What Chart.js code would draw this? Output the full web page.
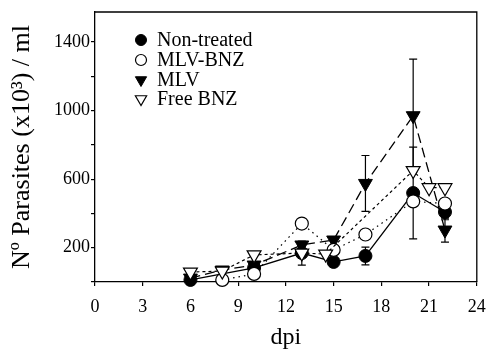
<!DOCTYPE html>
<html><head><meta charset="utf-8">
<script src="https://cdn.jsdelivr.net/npm/chart.js@4.4.1/dist/chart.umd.min.js"></script>
<style>html,body{margin:0;padding:0;background:#fff}#wrap{width:486px;height:352px;position:relative}</style>
</head><body><div id="wrap"><canvas id="c"></canvas></div>
<script>
// ---- data ----
const seriesNames = ['Non-treated', 'MLV-BNZ', 'MLV', 'Free BNZ'];
const nonTreatedX   = [6, 10, 13, 15, 17, 20, 22];
const nonTreatedY   = [12, 82, 169, 117, 152, 519, 408];
const nonTreatedErr = [0, 0, 70, 0, 52, 268, 45];
const mlvBnzX = [8, 10, 13, 15, 17, 20, 22];
const mlvBnzY = [12, 47, 341, 187, 277, 470, 458];
const mlvX   = [6, 8, 10, 13, 15, 17, 20, 22];
const mlvY   = [23, 70, 99, 216, 245, 575, 970, 303];
const mlvErr = [0, 0, 0, 0, 0, 163, 330, 70];
const freeBnzX = [6, 8, 10, 13, 14.5, 20, 21, 22];
const freeBnzY = [58, 64, 158, 169, 163, 650, 550, 550];
const xTickValues = [0, 3, 6, 9, 12, 15, 18, 21, 24];
const yTickValues = [0, 200, 400, 600, 800, 1000, 1200, 1400];
const yTickLabels = ['', '200', '', '600', '', '1000', '', '1400'];
const xTitle = 'dpi';
const yTitle = 'Nº Parasites (x10³) / ml';

const pts = (xs, ys) => xs.map((x, i) => ({x: x, y: ys[i]}));
const serif = '"Liberation Serif", "DejaVu Serif", serif';

const datasets = [
  {label: seriesNames[0], data: pts(nonTreatedX, nonTreatedY), err: nonTreatedErr,
   borderColor: '#000', borderWidth: 1.3, borderDash: [],
   pointStyle: 'circle', pointRadius: 6.5, pointBackgroundColor: '#000', pointBorderColor: '#000', pointBorderWidth: 1, pointRotation: 0, order: 2},
  {label: seriesNames[1], data: pts(mlvBnzX, mlvBnzY),
   borderColor: '#000', borderWidth: 1.2, borderDash: [1.5, 4],
   pointStyle: 'circle', pointRadius: 6.5, pointBackgroundColor: '#fff', pointBorderColor: '#000', pointBorderWidth: 1.2, pointRotation: 0, order: 1},
  {label: seriesNames[2], data: pts(mlvX, mlvY), err: mlvErr,
   borderColor: '#000', borderWidth: 1.3, borderDash: [10, 5],
   pointStyle: 'triangle', pointRadius: 8, pointBackgroundColor: '#000', pointBorderColor: '#000', pointBorderWidth: 1, pointRotation: 180, order: 3},
  {label: seriesNames[3], data: pts(freeBnzX, freeBnzY),
   borderColor: '#000', borderWidth: 1.2, borderDash: [3, 3],
   pointStyle: 'triangle', pointRadius: 8, pointBackgroundColor: '#fff', pointBorderColor: '#000', pointBorderWidth: 1.2, pointRotation: 180, order: 0}
];
datasets.forEach(d => { d.showLine = true; d.fill = false; d.tension = 0; d.clip = false; });

const errorBars = {
  id: 'errorBars',
  beforeDatasetsDraw(chart) {
    const {ctx, scales: {x, y}} = chart;
    ctx.save();
    ctx.strokeStyle = '#000'; ctx.lineWidth = 1.2; ctx.setLineDash([]);
    chart.data.datasets.forEach(ds => {
      if (!ds.err) return;
      ds.data.forEach((p, i) => {
        const e = ds.err[i]; if (!e) return;
        const px = x.getPixelForValue(p.x);
        const top = y.getPixelForValue(p.y + e), bot = y.getPixelForValue(p.y - e);
        ctx.beginPath();
        ctx.moveTo(px, top); ctx.lineTo(px, bot);
        ctx.moveTo(px - 4, top); ctx.lineTo(px + 4, top);
        ctx.moveTo(px - 4, bot); ctx.lineTo(px + 4, bot);
        ctx.stroke();
      });
    });
    ctx.restore();
  }
};

function drawMarker(ctx, style, r, rot, x, y, fill, lw) {
  ctx.beginPath();
  if (style === 'circle') {
    ctx.arc(x, y, r, 0, Math.PI * 2);
  } else {
    let rad = rot * Math.PI / 180;
    for (let k = 0; k < 3; k++) {
      const fx = x + Math.sin(rad) * r, fy = y - Math.cos(rad) * r;
      if (k === 0) ctx.moveTo(fx, fy); else ctx.lineTo(fx, fy);
      rad += 2 * Math.PI / 3;
    }
    ctx.closePath();
  }
  ctx.fillStyle = fill; ctx.fill();
  ctx.lineWidth = lw; ctx.strokeStyle = '#000'; ctx.stroke();
}

const boxAndLegend = {
  id: 'boxAndLegend',
  afterDraw(chart) {
    const {ctx, chartArea: a} = chart;
    ctx.save();
    ctx.strokeStyle = '#000'; ctx.lineWidth = 1.3; ctx.setLineDash([]);
    ctx.beginPath();
    ctx.moveTo(a.left, a.top); ctx.lineTo(a.right, a.top); ctx.lineTo(a.right, a.bottom);
    ctx.stroke();
    // legend
    const rows = [40, 60, 80, 99];
    ctx.font = '20px ' + serif;
    ctx.textBaseline = 'middle'; ctx.textAlign = 'left';
    chart.data.datasets.forEach((ds, i) => {
      const yy = rows[i];
      const r = ds.pointStyle === 'circle' ? 5.5 : 6.5;
      drawMarker(ctx, ds.pointStyle, r, ds.pointRotation, 141, yy, ds.pointBackgroundColor, ds.pointBorderWidth);
      ctx.fillStyle = '#000';
      ctx.fillText(ds.label, 157, yy + 1);
    });
    ctx.restore();
  }
};

new Chart(document.getElementById('c'), {
  type: 'line',
  data: {datasets: datasets},
  options: {
    responsive: true, maintainAspectRatio: false, animation: false,
    layout: {padding: {top: 12, right: 8, left: 0, bottom: 0}},
    plugins: {legend: {display: false}, tooltip: {enabled: false}},
    scales: {
      x: {
        type: 'linear', min: 0, max: 24,
        afterBuildTicks: s => { s.ticks = xTickValues.map(v => ({value: v})); },
        afterFit: s => { s.height = 70; s.paddingLeft = 0; s.paddingRight = 0; },
        ticks: {color: '#000', font: {family: serif, size: 18}, padding: 10, maxRotation: 0, autoSkip: false,
                callback: v => String(v)},
        grid: {display: true, drawOnChartArea: false, drawTicks: true, tickLength: 4, color: '#000', lineWidth: 1.2},
        border: {display: true, color: '#000', width: 1.3},
        title: {display: true, text: xTitle, color: '#000', font: {family: serif, size: 24}, padding: {top: 0, bottom: 0}}
      },
      y: {
        type: 'linear', min: 0, max: 1575,
        afterBuildTicks: s => { s.ticks = yTickValues.map(v => ({value: v})); },
        afterFit: s => { s.width = 95; s.paddingTop = 0; s.paddingBottom = 0; },
        ticks: {color: '#000', font: {family: serif, size: 18}, padding: 1, autoSkip: false,
                callback: (v) => { const i = yTickValues.indexOf(v); return i >= 0 ? yTickLabels[i] : ''; }},
        grid: {display: true, drawOnChartArea: false, drawTicks: true, tickLength: 4, color: '#000', lineWidth: 1.2},
        border: {display: true, color: '#000', width: 1.3},
        title: {display: true, text: yTitle, color: '#000', font: {family: serif, size: 26}, padding: {top: 7, bottom: 0}}
      }
    }
  },
  plugins: [errorBars, boxAndLegend]
});
</script>
</body></html>
